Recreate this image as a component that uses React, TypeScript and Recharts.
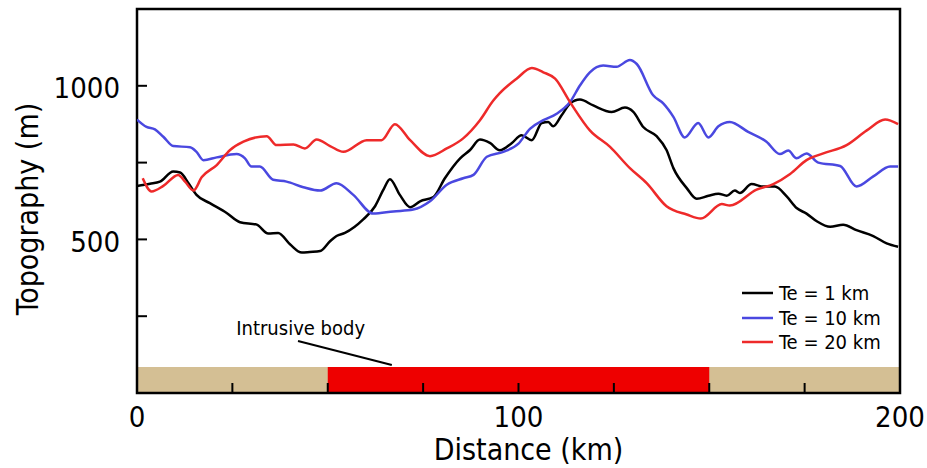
import React from 'react';
import {
  LineChart,
  Line,
  XAxis,
  YAxis,
  ReferenceArea,
  ReferenceLine,
  ReferenceDot,
  Legend,
} from 'recharts';

// Distance (km), topography (m)
const te1: [number, number][] = [
  [0, 674], [3.4, 681], [6, 688], [9.5, 721], [11.3, 718], [13.5, 683], [15.6, 645],
  [19.1, 618], [23.5, 586], [27, 556], [31.4, 548], [34.4, 519], [37, 521], [40.1, 484],
  [43.2, 457], [45.3, 459], [48, 462], [50.6, 494], [52.3, 511], [54.5, 521], [59.3, 565],
  [62.4, 608], [64.6, 662], [66.3, 696], [68.9, 645], [71.6, 605], [74.2, 624], [77.7, 638],
  [80.7, 699], [84.7, 764], [87.3, 791], [89.9, 825], [92.5, 814], [95.1, 790], [98.2, 813],
  [100.8, 839], [103.5, 823], [106.1, 879], [107.8, 882], [109.1, 868], [111.3, 904],
  [113.5, 942], [116.1, 955], [119.6, 936], [124.4, 915], [127.9, 929], [130.1, 915],
  [132.7, 866], [136.2, 836], [138.8, 791], [140.6, 732], [144.1, 667], [146.7, 632],
  [149.8, 642], [152.4, 649], [154.6, 642], [156.7, 659], [158, 651], [161.1, 680],
  [164.2, 672], [167.2, 672], [170.3, 640], [172.9, 602], [175.5, 584], [178.2, 559],
  [181.7, 541], [185.1, 548], [188.6, 530], [193, 511], [196.5, 487], [199.5, 476],
];

const te10: [number, number][] = [
  [0, 890], [2.5, 866], [4.7, 858], [6.9, 834], [9.5, 804], [13.9, 800], [15.6, 785],
  [17.4, 758], [20.9, 767], [26.1, 778], [28.3, 764], [30, 737], [32.2, 737], [35.7, 694],
  [39.2, 688], [43.6, 670], [48, 659], [52.3, 683], [56.7, 645], [61.9, 584], [67.2, 591],
  [72.4, 597], [76.8, 624], [81.2, 678], [85.5, 699], [88.2, 710], [91.7, 769], [96, 785],
  [100, 812], [103, 860], [106.5, 888], [110, 909], [113.5, 947], [116.1, 1001],
  [118.7, 1044], [122.2, 1066], [125.7, 1062], [129.2, 1084], [131, 1071], [135.3, 969],
  [138, 942], [140.6, 899], [143.6, 832], [147.1, 879], [149.8, 832], [152.4, 868],
  [155.4, 882], [160.2, 850], [165, 818], [168.5, 778], [170.7, 789], [172.9, 764],
  [175.5, 780], [178.6, 750], [184.3, 739], [188.6, 672], [193, 705], [197.4, 737],
  [199.5, 737],
];

const te20: [number, number][] = [
  [1.5, 699], [3.8, 656], [6.9, 674], [10.8, 710], [12.6, 688], [14.8, 659], [17, 703],
  [20.9, 742], [24.4, 791], [27.9, 818], [34, 836], [36.6, 807], [41, 809], [44, 796],
  [47.1, 825], [50.6, 804], [54.1, 785], [60.2, 823], [64.1, 823], [67.6, 875], [71.6, 823],
  [76.8, 771], [81.2, 796], [85.5, 829], [89.9, 888], [93.4, 952], [95.1, 976],
  [99.5, 1023], [103.5, 1058], [106.5, 1044], [109.6, 1023], [113.5, 947], [118.7, 855],
  [124, 801], [129.2, 732], [133.6, 683], [138.8, 608], [144.1, 581], [147.8, 568],
  [153.3, 615], [155.4, 610], [162.4, 662], [166.8, 680], [171.2, 713], [175.5, 758],
  [179.9, 780], [186, 807], [191.3, 855], [196.1, 890], [199.5, 875],
];

const seriesNames = ['Te = 1 km', 'Te = 10 km', 'Te = 20 km'];
const seriesColors = ['#000000', '#4a48e0', '#ee2a2a'];

const xTicks = [0, 25, 50, 75, 100, 125, 150, 175, 200];
const xLabels = [0, 100, 200];
const yTicks = [250, 500, 750, 1000];
const yLabels = [500, 1000];

const xDomain = [0, 200];
const yDomain = [0, 1250];

// basement strip and intrusive body
const stripTop = 85;
const intrusiveBody = [50, 150];
const annotText = 'Intrusive body';
const annotPos = { x: 42.9, y: 212 };
const annotLeader = [
  { x: 42.2, y: 169 },
  { x: 66.8, y: 91 },
];

const toRows = (arr: [number, number][]) => arr.map(([km, m]) => ({ km, m }));
const seriesData = [toRows(te1), toRows(te10), toRows(te20)];

const FONT = "'DejaVu Sans Condensed', 'Liberation Sans', Arial, sans-serif";

const XTick = (props: any) => {
  const { x, y, payload } = props;
  const show = xLabels.includes(payload.value);
  return (
    <g>
      <line x1={x} y1={y} x2={x} y2={y - 10} stroke="#000" strokeWidth={2} />
      {show && (
        <text x={x} y={y + 34} textAnchor="middle" fontSize={29} fontFamily={FONT} fill="#000">
          {payload.value}
        </text>
      )}
    </g>
  );
};

const YTick = (props: any) => {
  const { x, y, payload } = props;
  const show = yLabels.includes(payload.value);
  return (
    <g>
      <line x1={x} y1={y} x2={x + 10} y2={y} stroke="#000" strokeWidth={2} />
      {show && (
        <text x={x - 17} y={y + 12.5} textAnchor="end" fontSize={29} fontFamily={FONT} fill="#000">
          {payload.value}
        </text>
      )}
    </g>
  );
};

const LegendContent = (props: any) => {
  const { payload } = props;
  return (
    <div style={{ fontFamily: FONT, fontSize: 20, color: '#000' }}>
      {(payload || []).map((p: any) => (
        <div key={p.value} style={{ display: 'flex', alignItems: 'center', height: 24.5 }}>
          <svg width={31} height={4} style={{ marginRight: 6, display: 'block' }}>
            <line x1={0} y1={2} x2={31} y2={2} stroke={p.color} strokeWidth={2.5} />
          </svg>
          <span style={{ lineHeight: '24.5px', whiteSpace: 'nowrap' }}>{p.value}</span>
        </div>
      ))}
    </div>
  );
};

export default function App() {
  return (
    <div style={{ position: 'absolute', left: 0, top: 0, width: 927, height: 468, background: '#fff' }}>
      <LineChart
        width={927}
        height={468}
        margin={{ top: 9, right: 27, bottom: 0, left: 57 }}
      >
        <ReferenceArea x1={xDomain[0]} x2={xDomain[1]} y1={0} y2={stripTop} fill="#d4bf94" fillOpacity={1} stroke="none" />
        <ReferenceArea x1={intrusiveBody[0]} x2={intrusiveBody[1]} y1={0} y2={stripTop} fill="#ee0000" fillOpacity={1} stroke="none" />
        <ReferenceLine segment={annotLeader} stroke="#000" strokeWidth={2} />
        <ReferenceDot
          x={annotPos.x}
          y={annotPos.y}
          r={0}
          fill="none"
          stroke="none"
          label={{ value: annotText, position: 'center', fontSize: 20, fontFamily: FONT, fill: '#000' }}
        />
        {seriesData.map((d, i) => (
          <Line
            key={seriesNames[i]}
            data={d}
            dataKey="m"
            name={seriesNames[i]}
            type="monotone"
            stroke={seriesColors[i]}
            strokeWidth={2.5}
            dot={false}
            activeDot={false}
            isAnimationActive={false}
          />
        ))}
        <XAxis
          dataKey="km"
          type="number"
          domain={xDomain}
          ticks={xTicks}
          interval={0}
          height={75}
          axisLine={false}
          tickLine={false}
          tickSize={0}
          tickMargin={0}
          tick={<XTick />}
          allowDataOverflow
          label={(p: any) => {
            const vb = p.viewBox || {};
            return (
              <text
                x={(vb.x ?? 137) + (vb.width ?? 763) / 2 + 10}
                y={460}
                textAnchor="middle"
                fontSize={30}
                fontFamily={FONT}
                fill="#000"
              >
                Distance (km)
              </text>
            );
          }}
        />
        <YAxis
          type="number"
          domain={yDomain}
          ticks={yTicks}
          interval={0}
          width={80}
          axisLine={false}
          tickLine={false}
          tickSize={0}
          tickMargin={0}
          tick={<YTick />}
          allowDataOverflow
          label={(p: any) => {
            const cx = 38;
            const cy = 209;
            return (
              <text
                x={cx}
                y={cy}
                transform={`rotate(-90, ${cx}, ${cy})`}
                textAnchor="middle"
                fontSize={30}
                fontFamily={FONT}
                fill="#000"
              >
                Topography (m)
              </text>
            );
          }}
        />
        <ReferenceArea
          x1={xDomain[0]}
          x2={xDomain[1]}
          y1={yDomain[0]}
          y2={yDomain[1]}
          fill="none"
          stroke="#000"
          strokeWidth={2.5}
        />
        <Legend
          layout="horizontal"
          verticalAlign="middle"
          align="center"
          content={<LegendContent />}
          wrapperStyle={{ position: 'absolute', left: 742, top: 281, width: 170, height: 75 }}
        />
      </LineChart>
    </div>
  );
}
